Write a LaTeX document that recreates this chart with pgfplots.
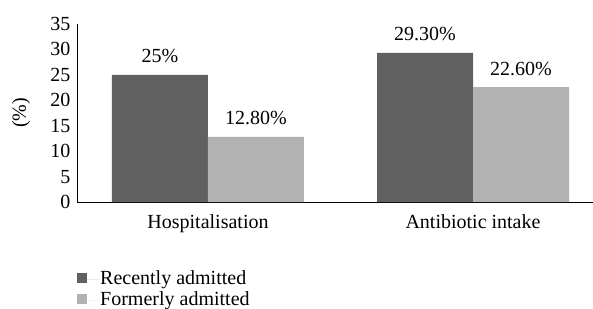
\documentclass[border=0pt]{standalone}
\usepackage{fontspec}
\setmainfont{Liberation Serif}
\usepackage{pgfplots}
\pgfplotsset{compat=1.18}
\definecolor{darkbar}{RGB}{96,96,96}
\definecolor{lightbar}{RGB}{178,178,178}
\begin{document}
\begin{tikzpicture}
\useasboundingbox (-77bp,-107bp) rectangle (516bp,202bp);
\begin{axis}[
  scale only axis,
  width=516bp, height=178bp,
  font=\fontsize{20bp}{23bp}\selectfont,
  /pgf/number format/assume math mode=true,
  ybar=0pt, bar width=96bp,
  xmin=-0.4943, xmax=1.4528,
  ymin=0, ymax=35,
  ytick={0,5,...,35},
  xtick={0,1},
  xticklabels={Hospitalisation, Antibiotic intake},
  major tick length=0pt,
  axis x line*=bottom, axis y line*=left,
  axis line style={black, line width=0.8pt},
  yticklabel style={xshift=-3bp},
  xticklabel style={yshift=-9bp},
  ylabel={(\%)},
  ylabel style={at={(axis description cs:-0.1085,0.5)}, anchor=center},
  point meta=explicit symbolic,
  nodes near coords={\pgfplotspointmeta\%},
  nodes near coords style={anchor=base, inner sep=0pt, yshift=12bp, font=\fontsize{20bp}{23bp}\selectfont},
  legend style={at={(axis description cs:0,0)}, anchor=north west, yshift=-69bp,
    draw=none, fill=none, inner sep=0pt, row sep=4bp,
    nodes={inner sep=0pt, text height=13bp, text depth=4bp},
    font=\fontsize{20bp}{23bp}\selectfont},
  legend cell align=left,
]
\addplot[fill=darkbar, draw=none,
  legend image code/.code={\fill[darkbar] (0bp,-3bp) rectangle (10bp,7bp); \path (0bp,0bp) -- (23bp,0bp);}]
  table[meta=label] {
x y label
0 25 25
1 29.3 29.30
};
\addplot[fill=lightbar, draw=none,
  legend image code/.code={\fill[lightbar] (0bp,-3bp) rectangle (10bp,7bp); \path (0bp,0bp) -- (23bp,0bp);}]
  table[meta=label] {
x y label
0 12.8 12.80
1 22.6 22.60
};
\legend{Recently admitted, Formerly admitted}
\end{axis}
\end{tikzpicture}
\end{document}
